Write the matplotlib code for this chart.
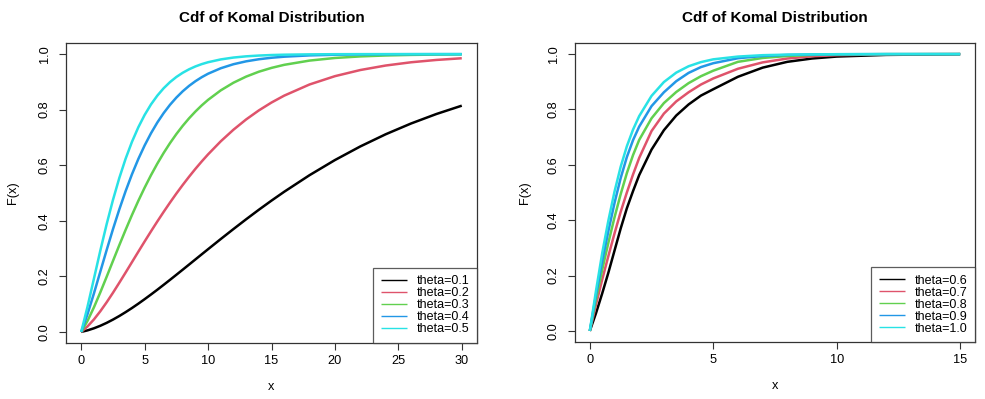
import matplotlib
matplotlib.use("Agg")
import matplotlib.pyplot as plt

plt.rcParams['font.family'] = ['Liberation Sans', 'DejaVu Sans']

# values (left panel)
x_left = [0, 0.5, 1, 1.5, 2, 2.5, 3, 3.5, 4, 4.5, 5, 5.5, 6, 6.5, 7, 7.5, 8, 8.5, 9, 9.5, 10,
          11, 12, 13, 14, 15, 16, 18, 20, 22, 24, 26, 28, 30]
cdf_t01 = [0, .0055, .0129, .0219, .0324, .0442, .0571, .0711, .0859, .1015, .1178, .1346, .1518, .1695,
           .1874, .2056, .2239, .2423, .2608, .2793, .2977, .3343, .3702, .4054, .4396, .4726, .5044,
           .5642, .6186, .6676, .7114, .7502, .7844, .8144]
cdf_t02 = [0, .0198, .0448, .0740, .1062, .1407, .1768, .2137, .2511, .2885, .3256, .3620, .3976, .4322,
           .4657, .4980, .5289, .5585, .5868, .6136, .6391, .6861, .7278, .7648, .7973, .8257, .8505,
           .8907, .9206, .9427, .9589, .9706, .9790, .9851]
cdf_t03 = [0, .0400, .0882, .1417, .1979, .2551, .3120, .3674, .4208, .4716, .5194, .5642, .6058, .6443,
           .6797, .7122, .7418, .7688, .7932, .8154, .8353, .8695, .8970, .9190, .9366, .9504, .9614,
           .9767, .9861, .9917, .9951, .9971, .9983, .9990]
cdf_t04 = [0, .0643, .1382, .2160, .2939, .3694, .4406, .5068, .5674, .6222, .6713, .7151, .7538, .7878,
           .8176, .8435, .8661, .8856, .9024, .9169, .9294, .9491, .9636, .9740, .9815, .9869, .9907,
           .9954, .9977, .9989, .9995, .9997, .9999, .9999]
cdf_t05 = [0, .0914, .1913, .2915, .3869, .4747, .5537, .6235, .6842, .7365, .7811, .8189, .8506, .8772,
           .8993, .9177, .9328, .9453, .9556, .9640, .9708, .9809, .9876, .9920, .9948, .9967, .9979,
           .9991, .9997, .9999, 1.0, 1.0, 1.0, 1.0]
labels_left = ['theta=0.1', 'theta=0.2', 'theta=0.3', 'theta=0.4', 'theta=0.5']

# right panel
x_right = [0, 0.25, 0.5, 0.75, 1, 1.25, 1.5, 1.75, 2, 2.5, 3, 3.5, 4, 4.5, 5, 6, 7, 8, 9, 10, 12, 15]
cdf_t06 = [0, .064, .135, .210, .290, .370, .443, .505, .563, .655, .725, .778, .818, .850, .873,
           .918, .951, .972, .984, .991, .997, .9995]
cdf_t07 = [0, .095, .185, .270, .352, .430, .500, .565, .625, .722, .785, .829, .862, .890, .912,
           .947, .970, .984, .992, .996, .999, 1.0]
cdf_t08 = [0, .115, .220, .318, .410, .494, .570, .635, .690, .768, .823, .863, .895, .920, .940,
           .972, .986, .993, .997, .9985, .9997, 1.0]
cdf_t09 = [0, .130, .250, .360, .462, .552, .628, .689, .738, .812, .862, .902, .932, .953, .967,
           .985, .993, .997, .9985, .9994, .9999, 1.0]
cdf_t10 = [0, .145, .280, .398, .503, .593, .667, .727, .776, .849, .899, .933, .956, .971, .981,
           .991, .996, .998, .999, .9995, 1.0, 1.0]
labels_right = ['theta=0.6', 'theta=0.7', 'theta=0.8', 'theta=0.9', 'theta=1.0']

colors = ['#000000', '#DF536B', '#61D04F', '#2297E6', '#28E2E5']

W, H = 985, 399
fig = plt.figure(figsize=(W / 100, H / 100), dpi=100)


def panel(rect, ylab_x, x, curves, labels, xlim, xticks):
    l, t, r, b = rect
    ax = fig.add_axes([l / W, 1 - b / H, (r - l) / W, (b - t) / H])
    for ys, c, lab in zip(curves, colors, labels):
        ax.plot(x, ys, color=c, lw=1.8, label=lab, solid_capstyle='butt', solid_joinstyle='round')
    ax.set_xlim(*xlim)
    ax.set_ylim(-0.04, 1.04)
    ax.set_xticks(xticks)
    ax.set_xticklabels([str(v) for v in xticks])
    yt = [0, 0.2, 0.4, 0.6, 0.8, 1.0]
    ax.set_yticks(yt)
    ax.set_yticklabels(['%.1f' % v for v in yt], rotation=90, va='center')
    ax.tick_params(axis='both', length=5, width=0.8, labelsize=9.2, color='#333333')
    ax.tick_params(axis='x', pad=3.5)
    ax.tick_params(axis='y', pad=6)
    for s in ax.spines.values():
        s.set_linewidth(0.9)
        s.set_color('#333333')
    ax.text(0.5, 1 + 25 / (b - t), 'Cdf of Komal Distribution', transform=ax.transAxes,
            ha='center', va='center', fontsize=11, fontweight='bold')
    ax.set_xlabel('x', fontsize=9.2)
    ax.xaxis.set_label_coords(0.5, -44 / (b - t))
    ax.xaxis.label.set_va('center')
    ax.set_ylabel('F(x)', fontsize=9.2)
    ax.yaxis.set_label_coords(-(l - ylab_x) / (r - l), 0.5)
    ax.yaxis.label.set_va('center')
    leg = ax.legend(loc='lower right', fontsize=9, frameon=True, fancybox=False,
                    borderaxespad=0, borderpad=0.6, labelspacing=0.0,
                    handlelength=2.1, handletextpad=0.8)
    leg.get_frame().set_edgecolor('#333333')
    leg.get_frame().set_linewidth(0.9)
    for h in leg.get_lines():
        h.set_linewidth(1.0)
    return ax


panel((66, 43, 477, 343), 13, x_left, [cdf_t01, cdf_t02, cdf_t03, cdf_t04, cdf_t05],
      labels_left, (-1.2, 31.2), [0, 5, 10, 15, 20, 25, 30])
panel((575, 43, 975, 342), 525, x_right, [cdf_t06, cdf_t07, cdf_t08, cdf_t09, cdf_t10],
      labels_right, (-0.6, 15.6), [0, 5, 10, 15])

fig.savefig('out.png', dpi=100)
